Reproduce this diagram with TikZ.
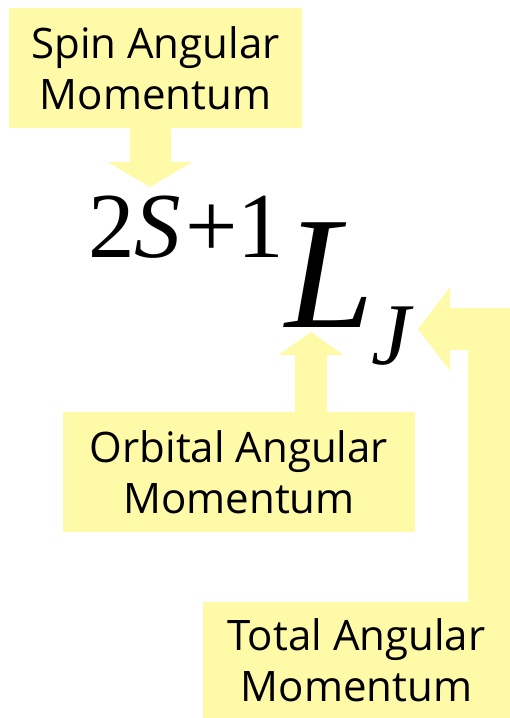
\documentclass[tikz,border=0pt]{standalone}
\usepackage{fontspec}
\setmainfont{Liberation Serif}
\newfontfamily\notefont{Open Sans}
\usetikzlibrary{arrows.meta}
\definecolor{notefill}{RGB}{255,250,168}
\begin{document}
\begin{tikzpicture}[x=1pt, y=-1pt,
    note/.style={fill=notefill, inner sep=0pt, align=center,
        font=\notefont\fontsize{42}{51}\selectfont},
    blockarrow/.style={draw=notefill, line join=miter}]
    \useasboundingbox (0,0) rectangle (510,718);

    % Term symbol
    \node[anchor=base west, inner sep=0pt, font=\fontsize{93}{93}\selectfont] (mult) at (88,257) {2\textit{S}\hspace{4pt}+1};
    \node[anchor=base west, inner sep=0pt, font=\fontsize{160}{160}\selectfont\itshape] (orb) at (285,327) {L};
    \node[anchor=base west, inner sep=0pt, font=\fontsize{88}{88}\selectfont\itshape] (tot) at (371,364) {J};

    % Labels
    \node[note, minimum width=293pt, minimum height=120pt] (spin) at (155.5,68) {Spin Angular\\Momentum};
    \node[note, minimum width=352pt, minimum height=120pt] (orbital) at (239,472) {Orbital Angular\\Momentum};
    \node[note, minimum width=307pt, minimum height=116pt] (total) at (356.5,660) {Total Angular\\Momentum};

    % Arrow tips
    \coordinate (spintip) at (150,187);
    \coordinate (orbtip) at (311,332);
    \coordinate (tottip) at (418,329);
    \coordinate (bend) at (489,329);

    % Arrows
    \draw[blockarrow, line width=41pt, -{Triangle[width=83pt, length=25pt]}] (spintip |- spin.south) -- (spintip);
    \draw[blockarrow, line width=32pt, -{Triangle[width=64pt, length=23pt]}] (orbtip |- orbital.north) -- (orbtip);
    \draw[blockarrow, line width=42pt, -{Triangle[width=82pt, length=32pt]}] (bend |- total.north) -- (bend) -- (tottip);
\end{tikzpicture}
\end{document}
